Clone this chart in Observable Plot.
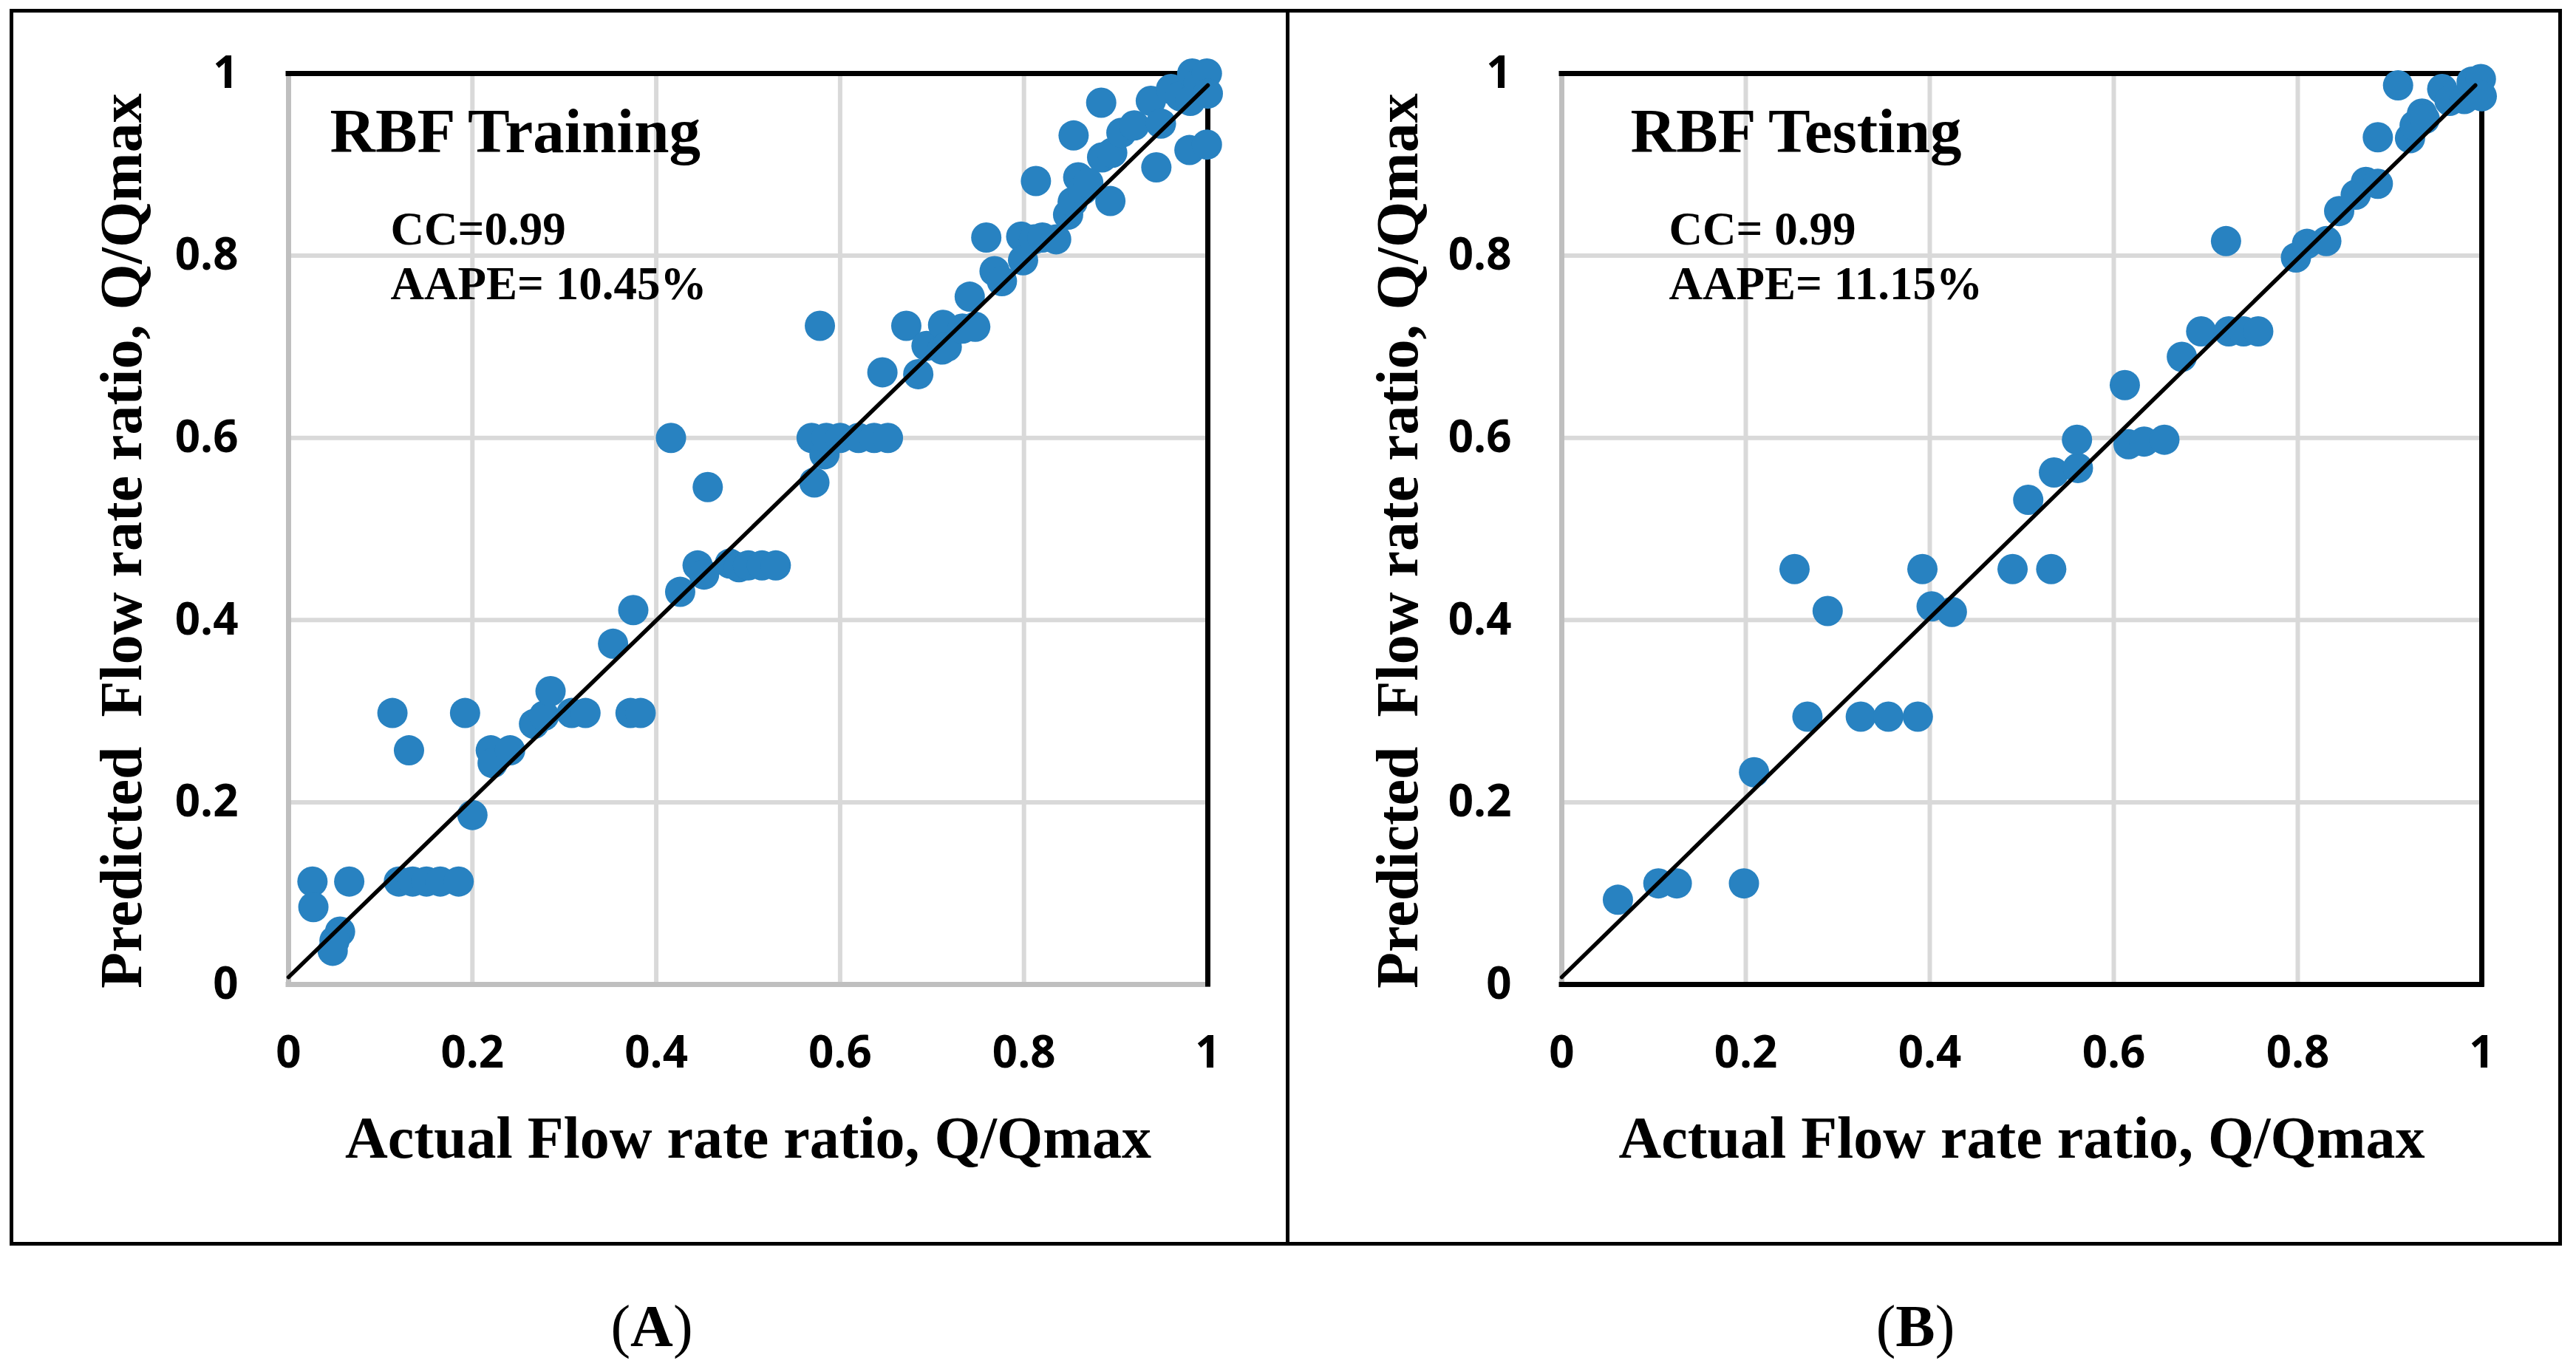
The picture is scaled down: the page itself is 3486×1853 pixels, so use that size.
<!DOCTYPE html>
<html><head><meta charset="utf-8">
<script src="https://cdn.jsdelivr.net/npm/d3@7"></script>
<script src="https://cdn.jsdelivr.net/npm/@observablehq/plot@0.6"></script>
<style>
html,body{margin:0;padding:0;background:#fff;}
#page{position:relative;width:3486px;height:1853px;overflow:hidden;background:#fff;}
.box{position:absolute;border:5px solid #000;box-sizing:border-box;}
.cap{position:absolute;width:400px;text-align:center;font-family:"Liberation Serif","Times New Roman",serif;font-size:80px;line-height:80px;color:#000;}
.panel{position:absolute;top:0;}
</style></head><body>
<div id="page">
 <div class="box" style="left:13px;top:12px;width:1732px;height:1674px;"></div>
 <div class="box" style="left:1740px;top:12px;width:1727px;height:1674px;"></div>
 <div id="pA" class="panel" style="left:0px"></div>
 <div id="pB" class="panel" style="left:1743px"></div>
 <div class="cap" style="left:682px;top:1755px">(<b>A</b>)</div>
 <div class="cap" style="left:2392px;top:1755px">(<b>B</b>)</div>
</div>
<script>
// ---- data ----
const ticks = [0, 0.2, 0.4, 0.6, 0.8, 1];
const tickLabels = ["0", "0.2", "0.4", "0.6", "0.8", "1"];

const trainActual = [0.026,0.027,0.066,0.056,0.050,0.048,0.120,0.135,0.150,0.165,0.185,0.113,0.131,0.192,0.200,0.220,0.222,0.241,0.267,0.278,0.285,0.308,0.323,0.353,0.372,0.375,0.383,0.416,0.426,0.445,0.452,0.456,0.480,0.490,0.500,0.515,0.530,0.569,0.572,0.578,0.583,0.585,0.600,0.620,0.637,0.646,0.652,0.672,0.685,0.694,0.711,0.712,0.716,0.733,0.741,0.747,0.759,0.768,0.776,0.797,0.799,0.811,0.820,0.835,0.813,0.848,0.853,0.854,0.859,0.864,0.870,0.884,0.885,0.894,0.896,0.906,0.920,0.938,0.944,0.949,0.960,0.970,0.980,0.981,0.983,0.990,0.999,0.999,1.000];
const trainPredicted = [0.113,0.085,0.113,0.058,0.048,0.037,0.113,0.113,0.113,0.113,0.113,0.298,0.257,0.298,0.186,0.257,0.243,0.257,0.286,0.295,0.322,0.298,0.298,0.374,0.298,0.411,0.298,0.600,0.431,0.460,0.450,0.546,0.462,0.458,0.460,0.460,0.460,0.600,0.551,0.723,0.582,0.600,0.600,0.600,0.600,0.672,0.600,0.723,0.670,0.701,0.697,0.724,0.700,0.720,0.755,0.722,0.820,0.783,0.772,0.821,0.795,0.818,0.820,0.818,0.882,0.845,0.859,0.932,0.886,0.872,0.880,0.968,0.908,0.860,0.913,0.935,0.943,0.970,0.897,0.945,0.983,0.975,0.916,0.970,1.000,0.990,1.000,0.922,0.978];

const testActual = [0.061,0.105,0.125,0.198,0.209,0.253,0.267,0.289,0.325,0.355,0.387,0.392,0.402,0.424,0.490,0.507,0.532,0.535,0.561,0.560,0.612,0.616,0.633,0.655,0.674,0.695,0.722,0.725,0.741,0.757,0.798,0.810,0.831,0.845,0.863,0.874,0.887,0.887,0.909,0.922,0.927,0.935,0.938,0.957,0.965,0.981,0.989,0.999,1.000];
const testPredicted = [0.093,0.111,0.111,0.111,0.233,0.456,0.294,0.410,0.294,0.294,0.294,0.456,0.415,0.409,0.456,0.532,0.456,0.562,0.567,0.598,0.658,0.593,0.596,0.598,0.689,0.717,0.816,0.717,0.717,0.717,0.798,0.813,0.816,0.849,0.867,0.881,0.879,0.930,0.987,0.929,0.943,0.956,0.950,0.983,0.970,0.972,0.991,0.994,0.975];

const trainTrendX = [0, 1];
const trainTrendY = [0.008, 0.987];
const testTrendX = [0, 0.993];
const testTrendY = [0.008, 0.987];

const yLabel = "Predicted\u00a0 Flow rate ratio, Q/Qmax";
const xLabel = "Actual Flow rate ratio, Q/Qmax";

// ---- build tables ----
const toPts = (xs, ys) => xs.map((x, i) => ({actual: x, predicted: ys[i]}));
const fmt = d => tickLabels[ticks.indexOf(d)];

function panel(cfg) {
  const serif = "Liberation Serif, Times New Roman, serif";
  const sans = "Open Sans, DejaVu Sans, sans-serif";
  return Plot.plot({
    width: cfg.width, height: 1683,
    marginLeft: cfg.ml, marginRight: cfg.mr, marginTop: 99, marginBottom: 351,
    x: {domain: [0, 1]},
    y: {domain: [0, 1]},
    style: {background: "transparent", overflow: "visible", color: "#000"},
    marks: [
      Plot.gridX(ticks, {stroke: "#d9d9d9", strokeOpacity: 1, strokeWidth: 6}),
      Plot.gridY(ticks, {stroke: "#d9d9d9", strokeOpacity: 1, strokeWidth: 6}),
      Plot.ruleX([0], {stroke: "#bfbfbf", strokeWidth: 7}),
      Plot.ruleY([0], {stroke: cfg.bottom, strokeWidth: 7, strokeLinecap: "square"}),
      Plot.ruleY([1], {stroke: "#000", strokeWidth: 7, strokeLinecap: "square"}),
      Plot.ruleX([1], {stroke: "#000", strokeWidth: 7, strokeLinecap: "square"}),
      Plot.axisX(ticks, {tickSize: 0, tickPadding: 70, tickFormat: fmt, fontSize: 60, fontWeight: 700, fontFamily: sans, label: null}),
      Plot.axisY(ticks, {tickSize: 0, tickPadding: 68, tickFormat: fmt, fontSize: 60, fontWeight: 700, fontFamily: sans, label: null}),
      Plot.dot(cfg.pts, {x: "actual", y: "predicted", r: 20.5, fill: "#2882c1"}),
      Plot.line(cfg.trend, {x: "actual", y: "predicted", stroke: "#000", strokeWidth: 5.5}),
      Plot.text([cfg.title], {frameAnchor: "top-left", text: d => d, textAnchor: "start", lineAnchor: "bottom", dx: cfg.tdx, dy: 106, fontSize: 85, fontWeight: 700, fontFamily: serif, fill: "#000"}),
      Plot.text([cfg.cc], {frameAnchor: "top-left", text: d => d, textAnchor: "start", lineAnchor: "bottom", dx: cfg.sdx, dy: 231, fontSize: 63, fontWeight: 700, fontFamily: serif, fill: "#000"}),
      Plot.text([cfg.aape], {frameAnchor: "top-left", text: d => d, textAnchor: "start", lineAnchor: "bottom", dx: cfg.sdx, dy: 305, fontSize: 63, fontWeight: 700, fontFamily: serif, fill: "#000"}),
      Plot.text([yLabel], {frameAnchor: "left", text: d => d, rotate: -90, textAnchor: "middle", lineAnchor: "bottom", dx: cfg.ydx, dy: 16, fontSize: 80, fontWeight: 700, fontFamily: serif, fill: "#000"}),
      Plot.text([xLabel], {frameAnchor: "bottom", text: d => d, textAnchor: "middle", lineAnchor: "bottom", dy: 234, fontSize: 80, fontWeight: 700, fontFamily: serif, fill: "#000"})
    ]
  });
}

document.getElementById("pA").append(panel({
  width: 1743, ml: 390, mr: 109, bottom: "#bfbfbf",
  pts: toPts(trainActual, trainPredicted), trend: toPts(trainTrendX, trainTrendY),
  title: "RBF Training", cc: "CC=0.99", aape: "AAPE= 10.45%", tdx: 56, sdx: 138, ydx: -200
}));
document.getElementById("pB").append(panel({
  width: 1721, ml: 370, mr: 106, bottom: "#000",
  pts: toPts(testActual, testPredicted), trend: toPts(testTrendX, testTrendY),
  title: "RBF Testing", cc: "CC= 0.99", aape: "AAPE= 11.15%", tdx: 93, sdx: 145, ydx: -196
}));
</script>
</body></html>
